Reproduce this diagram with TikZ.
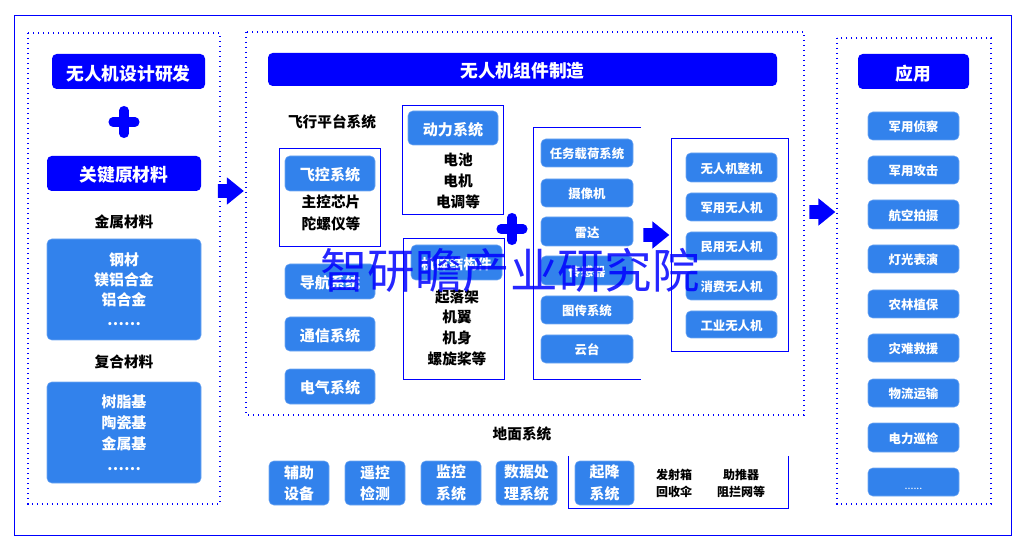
\documentclass[tikz,border=0pt]{standalone}
\usepackage{fontspec}
\setmainfont{Noto Sans CJK SC}
\usetikzlibrary{shapes.arrows, calc}
\definecolor{mainblue}{RGB}{0,0,255}
\definecolor{btnblue}{RGB}{50,130,236}
\tikzset{
  framebox/.style={draw=mainblue, line width=0.75pt},
  dotbox/.style={draw=mainblue, line width=0.9pt, dash pattern=on 0.9pt off 2.85pt},
  lowered/.style={execute at begin node={\rule{0pt}{1.05em}}},
  header/.style={rectangle, rounded corners=3.5pt, fill=mainblue, text=white, lowered, font=\bfseries\fontsize{13.3}{16}\selectfont, inner sep=0pt},
  btn/.style={rectangle, rounded corners=3.5pt, fill=btnblue, draw=btnblue!70!white, line width=0.4pt, text=white, lowered, font=\bfseries\fontsize{9.3}{12}\selectfont, align=center, inner sep=0pt},
  btnbig/.style={btn, font=\bfseries\fontsize{11.3}{14}\selectfont},
  btnlist/.style={btn, execute at begin node={\rule{0pt}{1.2em}}, font=\bfseries\fontsize{11.2}{15}\selectfont},
  btntwo/.style={btn, font=\bfseries\fontsize{11.2}{16}\selectfont},
  label/.style={text=black, lowered, font=\bfseries\fontsize{11}{15.5}\selectfont, align=center, inner sep=0pt},
  small/.style={text=black, lowered, font=\bfseries\fontsize{9}{12.75}\selectfont, align=center, inner sep=0pt},
  blockarrow/.style={single arrow, fill=mainblue, inner xsep=0pt, inner ysep=5pt, minimum width=20pt, minimum height=19.5pt, single arrow head extend=5pt, single arrow head indent=0pt, single arrow tip angle=78},
  plussign/.style={draw=mainblue, line width=6.8pt, line cap=round}
}
% box between two corners, in pixels
\newcommand{\cornerbox}[7][]{%
  \node[#2, minimum width=#5*0.75pt-#3*0.75pt, minimum height=#6*0.75pt-#4*0.75pt, #1] (#7)
    at ({(#3+#5)/2},{(#4+#6)/2})}
\newcommand{\drawplus}[2]{%
  \draw[plussign] (#1-11,#2) -- (#1+11,#2);
  \draw[plussign] (#1,#2-11.5) -- (#1,#2+11.5);}
\begin{document}
\begin{tikzpicture}[x=0.75pt, y=-0.75pt]
\useasboundingbox (0,0) rectangle (1020,541);
\draw[framebox] (14,16) rectangle (1011,535);
\draw[dotbox] (28,33) rectangle (220,504);
\draw[dotbox] (246,32) rectangle (804,415);
\draw[dotbox] (837,38) rectangle (991,504);

% left column
\cornerbox{header}{52}{54}{205}{89}{design} {\raisebox{-1.5pt}{无人机设计研发}};
\drawplus{124}{122}
\cornerbox{header}{47}{156}{201}{191}{material} {关键原材料};
\node[label] (metal) at (124,220.5) {金属材料};
\cornerbox{btnlist}{47}{239}{201}{340}{metalbox} {钢材\\镁铝合金\\铝合金\\……};
\node[label] (composite) at (124,360.5) {复合材料};
\cornerbox[font=\bfseries\fontsize{11.2}{15.8}\selectfont]{btnlist}{47}{382}{201}{483}{compositebox} {树脂基\\陶瓷基\\金属基\\……};
\node[blockarrow] (arrowA) at (226.5,191) {};

% middle part
\cornerbox{header}{268}{53}{777}{86}{parts} {无人机组件制造};
\node[label] (platform) at (332,120.5) {飞行平台系统};
\draw[framebox] (279,149) rectangle (380,247);
\cornerbox{btnbig}{285}{156}{375}{191}{flight} {飞控系统};
\node[label] (flighttext) at (331,213) {主控芯片\\[1pt]陀螺仪等};
\cornerbox{btnbig}{285}{264}{375}{299}{navi} {导航系统};
\cornerbox{btnbig}{285}{317}{375}{351}{comm} {通信系统};
\cornerbox{btnbig}{285}{369}{375}{404}{elec} {电气系统};
\draw[framebox] (402,106) rectangle (503,215);
\cornerbox{btnbig}{408}{111}{498}{145}{power} {动力系统};
\node[label] (powertext) at (458,181) {电池\\电机\\电调等};
\drawplus{512}{229}
\draw[framebox] (403,239) rectangle (504,379);
\cornerbox[font=\bfseries\fontsize{10.6}{14}\selectfont]{btn}{411}{245}{502}{280}{body} {机体结构件};
\node[label] (bodytext) at (457,327.5) {起落架\\机翼\\机身\\螺旋桨等};
\draw[framebox] (641,128) -- (533,128) -- (533,379) -- (641,379);
\cornerbox{btn}{541}{139}{633}{167}{payload} {任务载荷系统};
\cornerbox{btn}{541}{179}{633}{207}{camera} {摄像机};
\cornerbox{btn}{541}{217}{633}{246}{radar} {雷达};
\cornerbox{btn}{541}{256}{633}{285}{sensor} {传感器};
\cornerbox{btn}{541}{296}{633}{324}{link} {图传系统};
\cornerbox{btn}{541}{335}{633}{363}{gimbal} {云台};
\node[blockarrow] (arrowB) at (652,235) {};
\draw[framebox] (671,139) rectangle (788,351);
\cornerbox{btn}{686}{153}{777}{182}{whole} {无人机整机};
\cornerbox{btn}{686}{193}{777}{221}{army} {军用无人机};
\cornerbox{btn}{686}{232}{777}{260}{civil} {民用无人机};
\cornerbox{btn}{686}{271}{777}{300}{consumer} {消费无人机};
\cornerbox{btn}{686}{311}{777}{338}{industry} {工业无人机};
\node[blockarrow] (arrowC) at (818,212) {};

% right column
\cornerbox{header}{858}{54}{969}{89}{app} {\raisebox{-1.5pt}{应用}};
\cornerbox{btn}{868}{112}{959}{140}{recon} {军用侦察};
\cornerbox{btn}{868}{156}{959}{184}{attack} {军用攻击};
\cornerbox{btn}{868}{200}{959}{229}{aerial} {航空拍摄};
\cornerbox{btn}{868}{245}{959}{273}{show} {灯光表演};
\cornerbox{btn}{868}{290}{959}{318}{farm} {农林植保};
\cornerbox{btn}{868}{334}{959}{362}{rescue} {灾难救援};
\cornerbox{btn}{868}{379}{959}{407}{logistic} {物流运输};
\cornerbox{btn}{868}{423}{959}{452}{patrol} {电力巡检};
\cornerbox[font=\fontsize{8}{10}\selectfont]{btn}{868}{468}{959}{496}{more} {\raisebox{-2.5pt}{......}};

% ground system
\node[label] (ground) at (522,432.5) {地面系统};
\cornerbox{btntwo}{269}{461}{329}{505}{aux} {辅助\\设备};
\cornerbox{btntwo}{345}{461}{405}{505}{remote} {遥控\\检测};
\cornerbox{btntwo}{421}{461}{481}{505}{monitor} {监控\\系统};
\cornerbox{btntwo}{496}{461}{557}{505}{data} {数据处\\理系统};
\draw[framebox] (568,456) -- (568,508) -- (788,508) -- (788,456);
\cornerbox{btntwo}{575}{461}{634}{505}{launch} {起降\\系统};
\node[small] (launchA) at (674,483) {发射箱\\回收伞};
\node[small] (launchB) at (741,483) {助推器\\阻拦网等};

% watermark
\node[text=mainblue, opacity=0.85, font=\fontsize{35.6}{40}\selectfont, inner sep=0pt] (mark) at (510,270) {智研瞻产业研究院};
\end{tikzpicture}
\end{document}
